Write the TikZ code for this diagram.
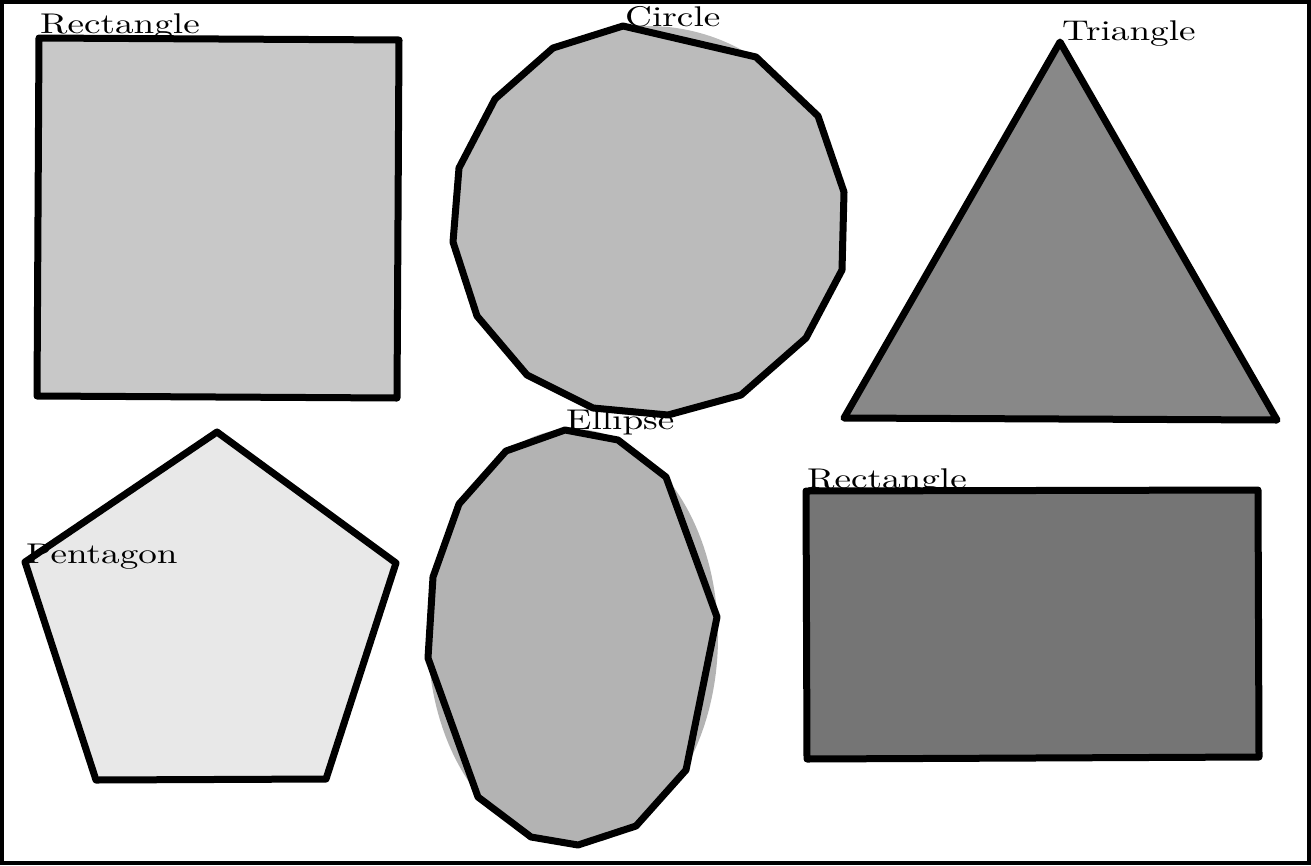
\documentclass[tikz,border=0pt]{standalone}
\usepackage{graphicx}
\newcommand{\lbltext}[1]{\scalebox{3.72}[2.85]{\fontsize{10}{12}\selectfont #1}}
\definecolor{fillA}{RGB}{200,200,200}
\definecolor{fillB}{RGB}{187,187,187}
\definecolor{fillC}{RGB}{136,136,136}
\definecolor{fillD}{RGB}{232,232,232}
\definecolor{fillE}{RGB}{179,179,179}
\definecolor{fillF}{RGB}{117,117,117}
\tikzset{
  shp/.style={draw=black, line width=7pt, line join=round},
  lbl/.style={anchor=base west, inner sep=0pt},
}
\begin{document}
\begin{tikzpicture}[x=1pt,y=-1pt]
\useasboundingbox (0,0) rectangle (1311,865);
\clip (0,0) rectangle (1311,865);
\fill[white] (0,0) rectangle (1311,865);
% rectangle 1
\draw[shp, fill=fillA] (39,38) -- (399,40) -- (397,398) -- (37,396) -- cycle;
% circle
\fill[fillB] (648,221) circle (195);
\draw[shp, fill=fillB] (623,26) -- (756,57) -- (818,116) -- (844,192) -- (842,270) -- (806,338) -- (741,395) -- (668,415) -- (593,408) -- (527,375) -- (477,316) -- (453,242) -- (459,168) -- (495,99) -- (553,48) -- cycle;
% triangle
\draw[shp, fill=fillC] (1060,42) -- (1277,420) -- (844,418) -- cycle;
% pentagon
\draw[shp, fill=fillD] (217,432) -- (396,563) -- (326,779) -- (96,780) -- (25,562) -- cycle;
% ellipse
\fill[fillE] (573,637) ellipse (145 and 208);
\draw[shp, fill=fillE] (565,430) -- (618,440) -- (666,477) -- (717,617) -- (686,770) -- (636,826) -- (578,845) -- (531,837) -- (478,797) -- (428,658) -- (433,577) -- (459,504) -- (506,451) -- cycle;
% rectangle 2
\draw[shp, fill=fillF] (806,491) -- (1258,490) -- (1259,757) -- (807,759) -- cycle;
% labels
\node[lbl] (l1) at (40,33) {\lbltext{Rectangle}};
\node[lbl] (l2) at (625,26) {\lbltext{Circle}};
\node[lbl] (l3) at (1062,40) {\lbltext{Triangle}};
\node[lbl] (l4) at (26,563) {\lbltext{Pentagon}};
\node[lbl] (l5) at (566,429) {\lbltext{Ellipse}};
\node[lbl] (l6) at (807,488) {\lbltext{Rectangle}};
% frame
\draw[line width=4pt] (2,2) rectangle (1309,863);
\end{tikzpicture}
\end{document}
